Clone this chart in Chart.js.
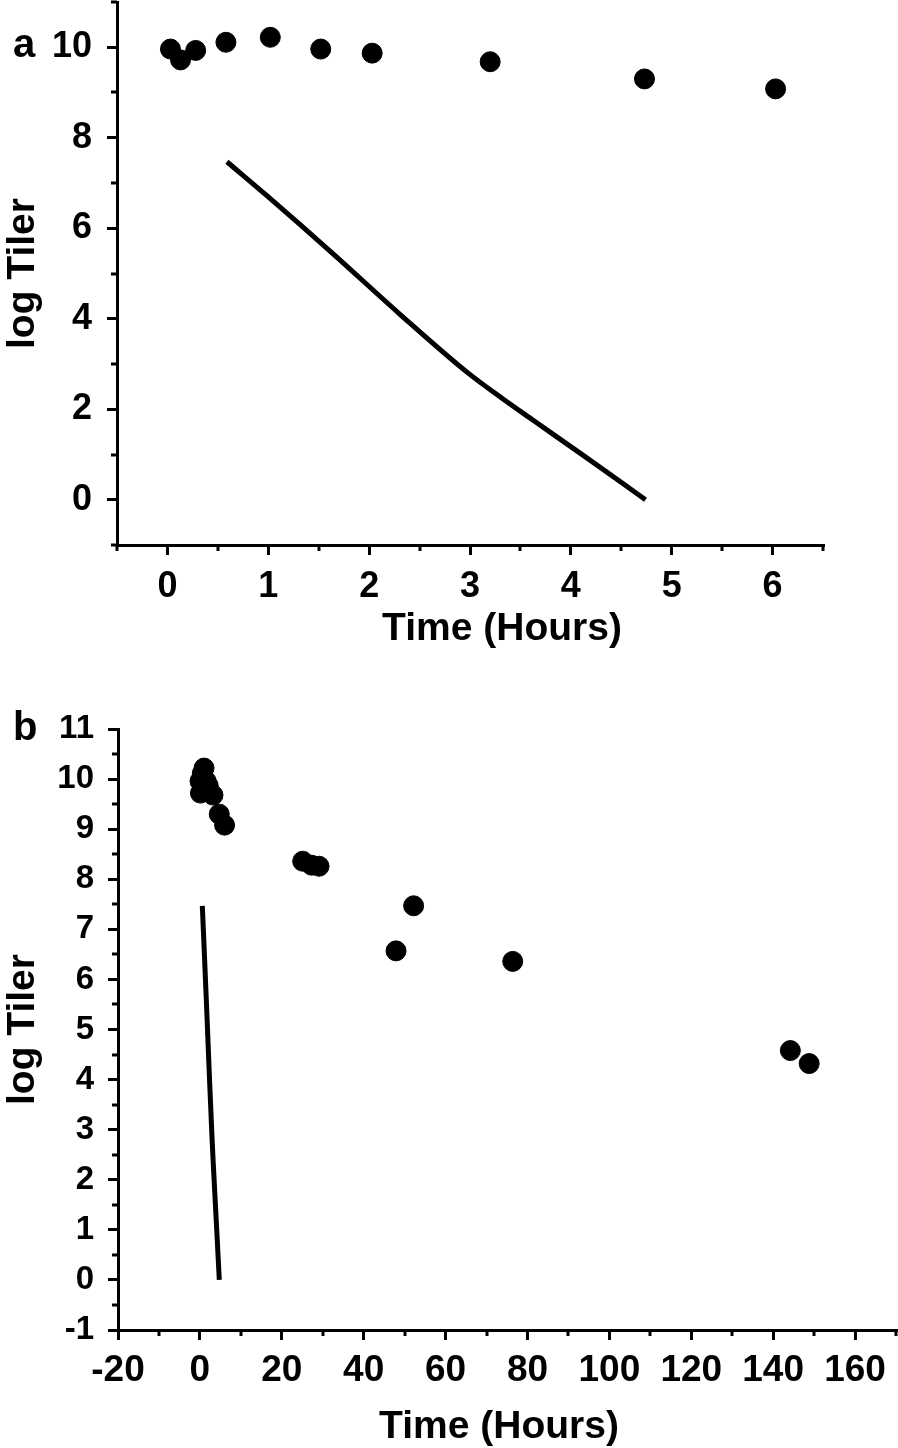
<!DOCTYPE html>
<html>
<head>
<meta charset="utf-8">
<script src="https://cdn.jsdelivr.net/npm/chart.js@4.4.0/dist/chart.umd.min.js"></script>
<style>
  body { margin: 0; background: #fff; }
  canvas { position: absolute; left: 0; }
  #chartA { top: 0; }
  #chartB { top: 700px; }
</style>
</head>
<body>
<canvas id="chartA" width="898" height="660"></canvas>
<canvas id="chartB" width="898" height="748"></canvas>
<script>
// measured titers (log), time in hours
const timeEarly = [0.03, 0.13, 0.28, 0.58, 1.02, 1.52, 2.03, 3.2, 4.73, 6.03];
const titerEarly = [9.96, 9.72, 9.93, 10.11, 10.22, 9.96, 9.87, 9.68, 9.30, 9.08];
const timeLate = [25.1, 27.3, 29.1, 47.9, 52.2, 76.4, 144.2, 148.8];
const titerLate = [8.36, 8.28, 8.26, 6.57, 7.47, 6.36, 4.58, 4.32];

// model decay curve
const modelTime = [0.59, 0.98, 1.64, 2.30, 2.97, 3.30, 3.63, 4.13, 4.74];
const modelTiter = [7.47, 6.73, 5.44, 4.11, 2.82, 2.27, 1.75, 0.97, 0.0];

// tick labels
const xTicksA = [0, 1, 2, 3, 4, 5, 6];
const xMinorA = [-0.5, 0.5, 1.5, 2.5, 3.5, 4.5, 5.5, 6.5];
const yTicksA = [0, 2, 4, 6, 8, 10];
const yMinorA = [-1, 1, 3, 5, 7, 9, 11];
const xTicksB = [-20, 0, 20, 40, 60, 80, 100, 120, 140, 160];
const xMinorB = [-10, 10, 30, 50, 70, 90, 110, 130, 150, 170];
const yTicksB = [-1, 0, 1, 2, 3, 4, 5, 6, 7, 8, 9, 10, 11];
const yMinorB = [-0.5, 0.5, 1.5, 2.5, 3.5, 4.5, 5.5, 6.5, 7.5, 8.5, 9.5, 10.5];

const FONT = '"Liberation Sans", Arial, sans-serif';

const pts = (xs, ys) => xs.map((x, i) => ({ x: x, y: ys[i] }));

// minor ticks + free text (panel letter, x title)
const extrasPlugin = {
  id: 'extras',
  afterDraw(chart, args, opts) {
    const ctx = chart.ctx;
    const xs = chart.scales.x, ys = chart.scales.y;
    const area = chart.chartArea;
    ctx.save();
    ctx.strokeStyle = '#000';
    ctx.lineWidth = 3;
    ctx.beginPath();
    opts.xMinor.forEach(v => {
      const px = Math.round(xs.getPixelForValue(v));
      ctx.moveTo(px, area.bottom);
      ctx.lineTo(px, area.bottom + 6);
    });
    opts.yMinor.forEach(v => {
      const py = Math.round(ys.getPixelForValue(v));
      ctx.moveTo(area.left, py);
      ctx.lineTo(area.left - 6, py);
    });
    ctx.stroke();

    ctx.fillStyle = '#000';
    ctx.textBaseline = 'alphabetic';
    ctx.font = 'bold 40px ' + FONT;
    ctx.textAlign = 'left';
    ctx.fillText(opts.letter, 13, opts.letterY);
    ctx.font = 'bold 39px ' + FONT;
    ctx.textAlign = 'center';
    ctx.fillText('Time (Hours)', opts.titleX, opts.titleY);
    ctx.restore();
  }
};

function makeChart(id, cfg) {
  return new Chart(document.getElementById(id), {
    type: 'scatter',
    data: {
      datasets: [
        {
          data: cfg.points,
          backgroundColor: '#000',
          borderColor: '#000',
          pointRadius: 10,
          pointHoverRadius: 10,
          showLine: false
        },
        {
          data: pts(modelTime, modelTiter),
          showLine: true,
          borderColor: '#000',
          borderWidth: 5,
          pointRadius: 0,
          cubicInterpolationMode: 'monotone',
          borderCapStyle: 'butt'
        }
      ]
    },
    options: {
      responsive: false,
      animation: false,
      clip: false,
      layout: { padding: cfg.padding, autoPadding: false },
      plugins: {
        legend: { display: false },
        tooltip: { enabled: false },
        extras: cfg.extras
      },
      scales: {
        x: {
          type: 'linear',
          min: cfg.xMin, max: cfg.xMax,
          afterBuildTicks: s => { s.ticks = cfg.xTicks.map(v => ({ value: v })); },
          afterFit: s => { s.height = cfg.xHeight; s.paddingLeft = 0; s.paddingRight = 0; },
          border: { display: true, color: '#000', width: 3 },
          grid: { drawOnChartArea: false, color: '#000', lineWidth: 3, tickLength: 10 },
          ticks: {
            color: '#000', padding: cfg.xPad, maxRotation: 0, autoSkip: false,
            font: { family: FONT, weight: 'bold', size: cfg.xFont }
          }
        },
        y: {
          type: 'linear',
          min: cfg.yMin, max: cfg.yMax,
          afterBuildTicks: s => { s.ticks = cfg.yTicks.map(v => ({ value: v })); },
          afterFit: s => { s.width = cfg.yWidth; s.paddingTop = 0; s.paddingBottom = 0; },
          border: { display: true, color: '#000', width: 3 },
          grid: { drawOnChartArea: false, color: '#000', lineWidth: 3, tickLength: 10 },
          ticks: {
            color: '#000', padding: cfg.yPad, autoSkip: false,
            font: { family: FONT, weight: 'bold', size: cfg.yFont }
          },
          title: {
            display: true, text: 'log Tiler', color: '#000', padding: 0,
            font: { family: FONT, weight: 'bold', size: 39 }
          }
        }
      }
    },
    plugins: [extrasPlugin]
  });
}

makeChart('chartA', {
  points: pts(timeEarly, titerEarly),
  xMin: -0.5, xMax: 6.5, yMin: -1, yMax: 11,
  xTicks: xTicksA, yTicks: yTicksA,
  xHeight: 115, yWidth: 117,
  padding: { top: 2, right: 75, left: 0, bottom: 0 },
  xPad: 10, yPad: 15, xFont: 36, yFont: 36,
  extras: { xMinor: xMinorA, yMinor: yMinorA, letter: 'a', letterY: 57, titleX: 502, titleY: 640 }
});

makeChart('chartB', {
  points: pts(timeEarly.concat(timeLate), titerEarly.concat(titerLate)),
  xMin: -20, xMax: 170, yMin: -1, yMax: 11,
  xTicks: xTicksB, yTicks: yTicksB,
  xHeight: 118, yWidth: 118,
  padding: { top: 29, right: 2, left: 0, bottom: 0 },
  xPad: 9, yPad: 14, xFont: 37, yFont: 33,
  extras: { xMinor: xMinorB, yMinor: yMinorB, letter: 'b', letterY: 40, titleX: 499, titleY: 738 }
});
</script>
</body>
</html>
